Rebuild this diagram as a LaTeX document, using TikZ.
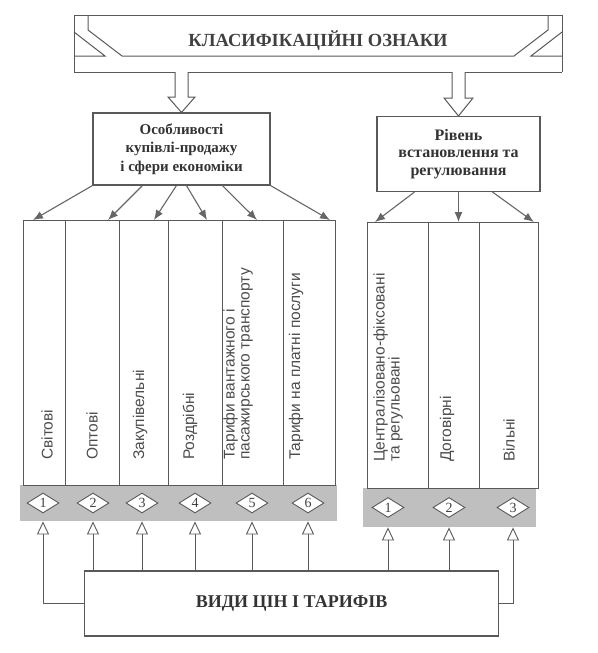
\documentclass[tikz,border=0pt]{standalone}
\usepackage{fontspec}
\setmainfont{Liberation Serif}
\setsansfont{Liberation Sans}
\usepackage{tikz}
\usetikzlibrary{arrows.meta,positioning,calc,shapes.geometric}
\tikzset{
  bannerln/.style={draw=black!65, line width=1pt, line join=miter},
  hollowarr/.style={draw=black!65, line width=1pt, fill=white, line join=miter},
  hdbox/.style={draw=black!65, line width=1.1pt, align=center, text=black!80,
    font=\bfseries\fontsize{15}{18.5}\selectfont},
  colbox/.style={draw=black!65, line width=0.9pt, anchor=north west, inner sep=0pt},
  coltext/.style={rotate=90, anchor=west, align=left, inner sep=0pt, text=black!70,
    font=\sffamily\fontsize{15.5}{15}\selectfont},
  band/.style={fill=black!25, anchor=north west, inner sep=0pt},
  numdiam/.style={diamond, draw=black!65, fill=white, line width=0.9pt, inner sep=0pt,
    minimum width=32pt, minimum height=20pt, text=black!75, font=\fontsize{14}{14}\selectfont},
  downarr/.style={-{Latex[length=10pt,width=8pt]}, line width=1.1pt, draw=black!60},
  uparr/.style={-{Triangle[open,length=13pt,width=12pt]}, line width=0.9pt, draw=black!65},
}

\begin{document}
\begin{tikzpicture}[x=1pt,y=-1pt]
    \useasboundingbox (0,0) rectangle (597,653);
    % banner on top
    \draw[bannerln] (74,72) -- (74,15) -- (562,15) -- (562,72);
    \draw[bannerln] (88,15) -- (88,30) -- (122,56) -- (514,56) -- (548,30) -- (548,15);
    \draw[bannerln] (74,32) -- (105,56) -- (74,56);
    \draw[bannerln] (562,32) -- (531,56) -- (562,56);
    \draw[bannerln] (74,72) -- (175,72);
    \draw[bannerln] (188,72) -- (452,72);
    \draw[bannerln] (465,72) -- (562,72);
    \node[font=\bfseries\fontsize{18.5}{20}\selectfont, text=black!75] (cls) at (318,41) {КЛАСИФІКАЦІЙНІ ОЗНАКИ};
    % two headings
    \node[hdbox, minimum width=177, minimum height=72] (feat) at (181.5,149) {Особливості\\купівлі-продажу\\і сфери економіки};
    \node[hdbox, minimum width=163, minimum height=75, font=\bfseries\fontsize{16}{17.5}\selectfont] (lvl) at (458.5,154) {Рівень\\встановлення та\\регулювання};
    % hollow arrows from the banner
    \draw[hollowarr] (175,72) -- (175,97) -- (168,97) -- (feat.north) -- (195,97) -- (188,97) -- (188,72);
    \draw[hollowarr] (452,72) -- (452,98) -- (444,98) -- (lvl.north) -- (473,98) -- (465,98) -- (465,72);
    % grey strips
    \node[band, minimum width=317, minimum height=36] (bandL) at (20,485) {};
    \node[band, minimum width=173, minimum height=39] (bandR) at (363,488) {};
    % columns, left block
    \node[colbox, minimum width=42, minimum height=265] (c1) at (23,220) {};
    \node[colbox, minimum width=54, minimum height=265] (c2) at (65,220) {};
    \node[colbox, minimum width=49, minimum height=265] (c3) at (119,220) {};
    \node[colbox, minimum width=54, minimum height=265] (c4) at (168,220) {};
    \node[colbox, minimum width=61, minimum height=265] (c5) at (222,220) {};
    \node[colbox, minimum width=52, minimum height=265] (c6) at (283,220) {};
    % columns, right block
    \node[colbox, minimum width=61, minimum height=266] (r1) at (367,222) {};
    \node[colbox, minimum width=51, minimum height=266] (r2) at (428,222) {};
    \node[colbox, minimum width=59, minimum height=266] (r3) at (479,222) {};
    % column texts
    \node[coltext] (t1) at (47,460) {Світові};
    \node[coltext] (t2) at (92,460) {Оптові};
    \node[coltext] (t3) at (140,460) {Закупівельні};
    \node[coltext] (t4) at (190,460) {Роздрібні};
    \node[coltext] (t5) at (238,460) {Тарифи вантажного і\\пасажирського транспорту};
    \node[coltext] (t6) at (296,460) {Тарифи на платні послуги};
    \node[coltext] (s1) at (388,462) {Централізовано-фіксовані\\та регульовані};
    \node[coltext] (s2) at (447,462) {Договірні};
    \node[coltext] (s3) at (509,462) {Вільні};
    % numbered diamonds
    \node[numdiam] (d1) at (43,503) {1};
    \node[numdiam] (d2) at (93,503) {2};
    \node[numdiam] (d3) at (142,503) {3};
    \node[numdiam] (d4) at (195,503) {4};
    \node[numdiam] (d5) at (252,503) {5};
    \node[numdiam] (d6) at (308,503) {6};
    \node[numdiam] (e1) at (388,507.5) {1};
    \node[numdiam] (e2) at (449,507.5) {2};
    \node[numdiam] (e3) at (513,507.5) {3};
    % arrows down to the columns
    \draw[downarr] (feat.south west) -- ([xshift=10pt]c1.north west);
    \draw[downarr] ([xshift=50pt]feat.south west) -- ([xshift=43pt]c2.north west);
    \draw[downarr] ([xshift=84pt]feat.south west) -- ([xshift=35pt]c3.north west);
    \draw[downarr] ([xshift=94pt]feat.south west) -- ([xshift=39pt]c4.north west);
    \draw[downarr] ([xshift=130pt]feat.south west) -- ([xshift=35pt]c5.north west);
    \draw[downarr] (feat.south east) -- ([xshift=47pt]c6.north west);
    \draw[downarr] ([xshift=38pt]lvl.south west) -- ([xshift=8pt]r1.north west);
    \draw[downarr] (lvl.south) -- (lvl.south |- r2.north);
    \draw[downarr] ([xshift=-48pt]lvl.south east) -- ([xshift=-5pt]r3.north east);
    % bottom box and its arrows
    \node[hdbox, minimum width=414, minimum height=65, font=\bfseries\fontsize{18}{20}\selectfont] (kinds) at (291.5,603.5) {ВИДИ ЦІН І ТАРИФІВ};
    \draw[uparr] (kinds.west) -| (d1 |- bandL.south);
    \foreach \d in {d2,d3,d4,d5,d6}
      \draw[uparr] (kinds.north -| \d) -- (\d |- bandL.south);
    \foreach \d in {e1,e2}
      \draw[uparr] (kinds.north -| \d) -- (\d |- bandR.south);
    \draw[uparr] (kinds.east) -| (e3 |- bandR.south);
\end{tikzpicture}
\end{document}
